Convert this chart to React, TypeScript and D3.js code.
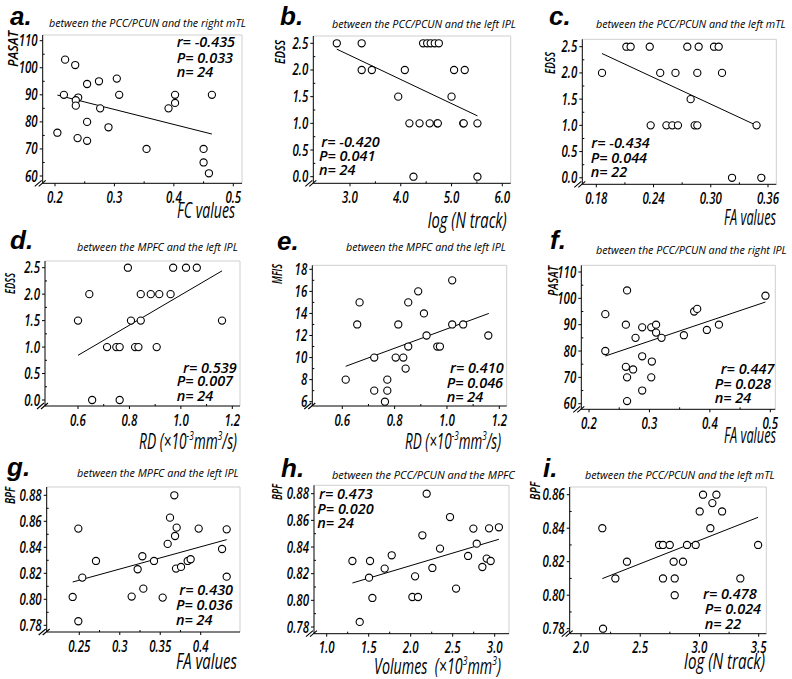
import React from "react";
import * as d3 from "d3";

// ---- data ----
// a. PCC/PCUN - right mTL : FC values vs PASAT
const aFC = [0.204, 0.217, 0.234, 0.215, 0.254, 0.274, 0.304, 0.308, 0.239, 0.235, 0.235, 0.276, 0.254, 0.290, 0.238, 0.254, 0.354, 0.391, 0.402, 0.402, 0.464, 0.450, 0.450, 0.459];
const aPASAT = [76, 103, 101, 90, 94, 95, 96, 90, 89, 88, 86, 85, 80, 78, 74, 73, 70, 85, 87, 90, 90, 70, 65, 61];
const aFit = [0.204, 89.9, 0.464, 75.5];
const aStats = ["r= -0.435", "P= 0.033", "n= 24"];

// b. PCC/PCUN - left IPL : log(N track) vs EDSS
const bLogN = [2.74, 3.23, 3.23, 3.43, 4.08, 3.95, 4.17, 4.37, 4.57, 4.72, 4.73, 5.23, 5.24, 5.51, 4.25, 5.51, 4.44, 4.52, 4.59, 4.67, 4.75, 5.0, 5.05, 5.26];
const bEDSS = [2.5, 2.5, 2.0, 2.0, 2.0, 1.5, 1.0, 1.0, 1.0, 1.0, 1.0, 1.0, 1.0, 1.0, 0.0, 0.0, 2.5, 2.5, 2.5, 2.5, 2.5, 1.5, 2.0, 2.0];
const bFit = [2.74, 2.39, 5.51, 1.14];
const bStats = ["r= -0.420", "P= 0.041", "n= 24"];

// c. PCC/PCUN - left mTL : FA values vs EDSS
const cFA = [0.186, 0.2115, 0.216, 0.236, 0.247, 0.263, 0.237, 0.2535, 0.2597, 0.2656, 0.2754, 0.2873, 0.2859, 0.2789, 0.2831, 0.2859, 0.3034, 0.3083, 0.3118, 0.348, 0.3223, 0.353];
const cEDSS = [2.0, 2.5, 2.5, 2.5, 2.0, 2.0, 1.0, 1.0, 1.0, 1.0, 2.5, 2.5, 2.0, 1.5, 1.0, 1.0, 2.5, 2.5, 2.0, 1.0, 0.0, 0.0];
const cFit = [0.186, 2.37, 0.349, 0.99];
const cStats = ["r= -0.434", "P= 0.044", "n= 22"];

// d. MPFC - left IPL : RD vs EDSS
const dRD = [0.6, 0.644, 0.655, 0.713, 0.749, 0.762, 0.762, 0.794, 0.806, 0.844, 0.822, 0.835, 0.844, 0.883, 0.916, 0.906, 0.96, 0.97, 1.02, 1.062, 1.16];
const dEDSS = [1.5, 2.0, 0.0, 1.0, 1.0, 1.0, 0.0, 2.5, 1.5, 1.5, 1.0, 1.0, 2.0, 2.0, 2.0, 1.0, 2.0, 2.5, 2.5, 2.5, 1.5];
const dFit = [0.6, 0.844, 1.16, 2.44];
const dStats = ["r= 0.539", "P= 0.007", "n= 24"];

// e. MPFC - left IPL : RD vs MFIS
const eRD = [0.613, 0.657, 0.666, 0.722, 0.722, 0.772, 0.772, 0.763, 0.804, 0.814, 0.833, 0.842, 0.852, 0.852, 0.89, 0.912, 0.922, 0.963, 0.973, 1.02, 1.02, 1.062, 1.158];
const eMFIS = [8, 13, 15, 10, 7, 7, 8, 6, 10, 13, 10, 9, 11, 15, 16, 14, 12, 11, 11, 17, 13, 13, 12];
const eFit = [0.613, 9.21, 1.16, 14.0];
const eStats = ["r= 0.410", "P= 0.046", "n= 24"];

// f. PCC/PCUN - right IPL : FA values vs PASAT
const fFA = [0.227, 0.227, 0.263, 0.261, 0.261, 0.263, 0.263, 0.273, 0.277, 0.288, 0.288, 0.288, 0.303, 0.311, 0.311, 0.32, 0.304, 0.303, 0.357, 0.374, 0.379, 0.395, 0.415, 0.492];
const fPASAT = [80, 94, 103, 90, 74, 70, 61, 73, 85, 89, 78, 65, 89, 90, 87, 85, 76, 70, 86, 95, 96, 88, 90, 101];
const fFit = [0.227, 78.1, 0.492, 98.6];
const fStats = ["r= 0.447", "P= 0.028", "n= 24"];

// g. MPFC - left IPL : FA values vs BPF
const gFA = [0.2418, 0.2488, 0.2488, 0.2537, 0.2706, 0.3147, 0.3221, 0.3279, 0.3291, 0.3423, 0.353, 0.3592, 0.3621, 0.3674, 0.3683, 0.3703, 0.3695, 0.3757, 0.3839, 0.3876, 0.3975, 0.4264, 0.4321, 0.4321];
const gBPF = [0.8018, 0.8544, 0.7831, 0.8167, 0.8295, 0.8021, 0.8231, 0.8331, 0.8082, 0.8295, 0.8013, 0.8426, 0.8628, 0.88, 0.8487, 0.8551, 0.8236, 0.8249, 0.8295, 0.8308, 0.8544, 0.8387, 0.8538, 0.8174];
const gFit = [0.2418, 0.8133, 0.4321, 0.8459];
const gStats = ["r= 0.430", "P= 0.036", "n= 24"];

// h. PCC/PCUN - MPFC : Volumes vs BPF
const hVol = [1.306, 1.393, 1.516, 1.504, 1.544, 1.69, 1.774, 2.052, 2.02, 2.087, 2.139, 2.19, 2.258, 2.349, 2.468, 2.54, 2.683, 2.746, 2.786, 2.853, 2.905, 2.952, 2.933, 3.05];
const hBPF = [0.8295, 0.7838, 0.8295, 0.817, 0.8018, 0.8238, 0.8338, 0.818, 0.8025, 0.8025, 0.8488, 0.88, 0.8243, 0.8388, 0.8625, 0.8088, 0.8333, 0.8538, 0.8425, 0.825, 0.8313, 0.8295, 0.854, 0.8548];
const hFit = [1.306, 0.813, 3.05, 0.8458];
const hStats = ["r= 0.473", "P= 0.020", "n= 24"];

// i. PCC/PCUN - left mTL : log(N track) vs BPF
const iLogN = [2.18, 2.186, 2.29, 2.388, 2.659, 2.692, 2.692, 2.749, 2.782, 2.791, 2.791, 2.861, 2.895, 2.968, 3.002, 3.03, 3.092, 3.109, 3.143, 3.191, 3.345, 3.495];
const iBPF = [0.84, 0.78, 0.81, 0.82, 0.83, 0.83, 0.81, 0.83, 0.82, 0.81, 0.8, 0.82, 0.83, 0.83, 0.85, 0.86, 0.84, 0.855, 0.86, 0.85, 0.81, 0.83];
const iFit = [2.18, 0.8099, 3.495, 0.8465];
const iStats = ["r= 0.478", "P= 0.024", "n= 22"];

// tick labels
const ticksFC = ["0.2", "0.3", "0.4", "0.5"];
const ticksPASAT = ["60", "70", "80", "90", "100", "110"];
const ticksLogNb = ["3.0", "4.0", "5.0", "6.0"];
const ticksEDSS = ["0.0", "0.5", "1.0", "1.5", "2.0", "2.5"];
const ticksFAc = ["0.18", "0.24", "0.30", "0.36"];
const ticksRD = ["0.6", "0.8", "1.0", "1.2"];
const ticksMFIS = ["6", "8", "10", "12", "14", "16", "18"];
const ticksFAg = ["0.25", "0.3", "0.35", "0.4"];
const ticksBPF = ["0.78", "0.80", "0.82", "0.84", "0.86", "0.88"];
const ticksVol = ["1.0", "1.5", "2.0", "2.5", "3.0"];
const ticksLogNi = ["2.0", "2.5", "3.0", "3.5"];
const ticksBPFi = ["0.78", "0.80", "0.82", "0.84", "0.86"];

// axis label pieces: [text, isSuperscript]
const rdLabel: [string, boolean][] = [["RD (×10", false], ["-3", true], ["mm", false], ["3", true], ["/s)", false]];
const volLabel: [string, boolean][] = [["Volumes\u00a0 (×10", false], ["3", true], ["mm", false], ["3", true], [")", false]];

const SANS = "'Open Sans', 'DejaVu Sans', sans-serif";
const ARIAL = "'Liberation Sans', Arial, sans-serif";

// canvas measuring so that condensed texts get a true horizontal scale
const ctx = typeof document !== "undefined" ? document.createElement("canvas").getContext("2d") : null;
const measure = (parts: [string, boolean][], size: number, weight: number) =>
  parts.reduce((w, [s, up]) => {
    if (!ctx) return w + s.length * size * 0.5;
    ctx.font = `italic ${weight} ${up ? size * 0.6 : size}px ${SANS}`;
    return w + ctx.measureText(s).width;
  }, 0);

const Fit = ({ x, y, w, size, weight = 400, anchor = "start", rotate = 0, parts }:
  { x: number; y: number; w: number; size: number; weight?: number; anchor?: string; rotate?: number; parts: [string, boolean][] }) => {
  const sx = w / measure(parts, size, weight);
  return (
    <text transform={`translate(${x},${y}) rotate(${rotate}) scale(${sx},1)`} textAnchor={anchor}
      fontSize={size} fontStyle="italic" fontWeight={weight} fontFamily={SANS}>
      {parts.map(([s, up], k) => {
        const prevUp = k > 0 && parts[k - 1][1];
        const dy = up ? -size * 0.42 : prevUp ? size * 0.42 : 0;
        return (
          <tspan key={k} dy={dy} fontSize={up ? size * 0.6 : size}>{s}</tspan>
        );
      })}
    </text>
  );
};

// layout of each panel (page pixels)
const panels = [
  { letter: "a.", lx: 10, ly: 25, title: "between the PCC/PCUN and the right mTL", tx: 49, ty: 27, tw: 197,
    xs: aFC, ys: aPASAT, fit: aFit, stats: aStats, xt: ticksFC, yt: ticksPASAT,
    xd: [0.2, 0.5], xr: [55, 233.3], yd: [60, 110], yr: [176, 40.7], frame: [42.7, 35, 242, 183.3],
    sp: [[176.7, 46.7], [176.7, 63.3], [176.7, 77.3]],
    xl: [["FC values", false]], xlp: [235, 218, 58], yl: "PASAT", ylp: [18, 31, 36] },
  { letter: "b.", lx: 280, ly: 25, title: "between the PCC/PCUN and the left IPL", tx: 332, ty: 28, tw: 184,
    xs: bLogN, ys: bEDSS, fit: bFit, stats: bStats, xt: ticksLogNb, yt: ticksEDSS,
    xd: [3, 6], xr: [350, 502.3], yd: [0, 2.5], yr: [176.7, 43.3], frame: [313.3, 36, 510.7, 183.3],
    sp: [[321.3, 146.7], [319, 160.7], [319, 175]],
    xl: [["log (N track)", false]], xlp: [506.7, 228, 79], yl: "EDSS", ylp: [285, 40, 24] },
  { letter: "c.", lx: 549, ly: 25, title: "between the PCC/PCUN and the left mTL", tx: 596, ty: 28, tw: 190,
    xs: cFA, ys: cEDSS, fit: cFit, stats: cStats, xt: ticksFAc, yt: ticksEDSS,
    xd: [0.18, 0.36], xr: [596.3, 768], yd: [0, 2.5], yr: [177.8, 46.7], frame: [582.3, 39.3, 776.3, 184.3],
    sp: [[591.3, 148.3], [590.7, 163.3], [590.7, 177.3]],
    xl: [["FA values", false]], xlp: [776, 225, 52], yl: "EDSS", ylp: [555, 52, 22] },
  { letter: "d.", lx: 10, ly: 249, title: "between the MPFC and the left IPL", tx: 77, ty: 251, tw: 161,
    xs: dRD, ys: dEDSS, fit: dFit, stats: dStats, xt: ticksRD, yt: ticksEDSS,
    xd: [0.6, 1.2], xr: [78, 232.3], yd: [0, 2.5], yr: [400, 267.7], frame: [45, 261, 240, 406],
    sp: [[183, 372.7], [176.7, 386], [176.7, 401]],
    xl: rdLabel, xlp: [237, 449, 98], yl: "EDSS", ylp: [15, 273, 21] },
  { letter: "e.", lx: 277, ly: 250, title: "between the MPFC and the left IPL", tx: 346, ty: 251, tw: 160,
    xs: eRD, ys: eMFIS, fit: eFit, stats: eStats, xt: ticksRD, yt: ticksMFIS,
    xd: [0.6, 1.2], xr: [342.3, 499.3], yd: [6, 18], yr: [401.7, 269.3], frame: [312.3, 265.3, 506.7, 406],
    sp: [[450, 372.7], [446.7, 387.7], [446.7, 401.7]],
    xl: rdLabel, xlp: [501, 449, 96], yl: "MFIS", ylp: [282, 264, 20] },
  { letter: "f.", lx: 550, ly: 249, title: "between the PCC/PCUN and the right IPL", tx: 596, ty: 254, tw: 191,
    xs: fFA, ys: fPASAT, fit: fFit, stats: fStats, xt: ticksFC, yt: ticksPASAT,
    xd: [0.2, 0.5], xr: [589, 770.3], yd: [60, 110], yr: [403.7, 272], frame: [581.3, 265.3, 775.3, 409.3],
    sp: [[720.7, 374.3], [714.7, 388.7], [714.7, 403.3]],
    xl: [["FA values", false]], xlp: [776, 443, 52], yl: "PASAT", ylp: [558, 266, 30] },
  { letter: "g.", lx: 7, ly: 476, title: "between the MPFC and the left IPL", tx: 77, ty: 477, tw: 162,
    xs: gFA, ys: gBPF, fit: gFit, stats: gStats, xt: ticksFAg, yt: ticksBPF,
    xd: [0.25, 0.4], xr: [79.3, 200.7], yd: [0.78, 0.88], yr: [625.3, 495.3], frame: [46.7, 487, 240, 632],
    sp: [[179.3, 594.7], [176, 610.3], [176, 625.3]],
    xl: [["FA values", false]], xlp: [237, 669, 61], yl: "BPF", ylp: [15, 487, 17] },
  { letter: "h.", lx: 281, ly: 477, title: "between the PCC/PCUN and the MPFC", tx: 332, ty: 479, tw: 183,
    xs: hVol, ys: hBPF, fit: hFit, stats: hStats, xt: ticksVol, yt: ticksBPF,
    xd: [1, 3], xr: [326.7, 494.7], yd: [0.78, 0.88], yr: [627, 493.7], frame: [314, 485.3, 509, 633.7],
    sp: [[319, 498.7], [317.3, 513.7], [317.3, 528]],
    xl: volLabel, xlp: [501, 674, 127], yl: "BPF", ylp: [282, 484, 16] },
  { letter: "i.", lx: 543, ly: 477, title: "between the PCC/PCUN and the left mTL", tx: 585, ty: 479, tw: 190,
    xs: iLogN, ys: iBPF, fit: iFit, stats: iStats, xt: ticksLogNi, yt: ticksBPFi,
    xd: [2, 3.5], xr: [581, 758.7], yd: [0.78, 0.86], yr: [628.7, 494.7], frame: [569.7, 487, 766.3, 633.7],
    sp: [[703, 599.3], [704.7, 614.3], [704.7, 628.7]],
    xl: [["log (N track)", false]], xlp: [765, 669, 81], yl: "BPF", ylp: [540, 482, 18] },
];

const midpoints = (v: number[]) => v.slice(1).map((d, k) => (d + v[k]) / 2);

const Panel = ({ p }: { p: any }) => {
  const x = d3.scaleLinear().domain(p.xd).range(p.xr);
  const y = d3.scaleLinear().domain(p.yd).range(p.yr);
  const [L, T, R, B] = p.frame;
  const xv = p.xt.map(Number);
  const yv = p.yt.map(Number);
  const line = d3.line<number[]>().x((d) => x(d[0])).y((d) => y(d[1]));
  const fitPath = line([[p.fit[0], p.fit[1]], [p.fit[2], p.fit[3]]]) || "";

  return (
    <g>
      {/* light frame */}
      <path d={`M${L},${T}H${R}V${B}`} fill="none" stroke="#cfcfcf" strokeWidth={1} />
      {/* axes */}
      <path d={`M${L},${T}V${B}H${R}`} fill="none" stroke="#000" strokeWidth={1} />
      {/* break marks */}
      <path d={`M${L - 8},${B + 3}L${L - 1},${B - 3}M${L - 4},${B + 3}L${L + 3},${B - 3}`} stroke="#000" strokeWidth={1.1} />
      {/* ticks */}
      {xv.map((v: number, k: number) => (
        <g key={"xt" + k}>
          <line x1={x(v)} x2={x(v)} y1={B} y2={B + 3} stroke="#000" />
          <text transform={`translate(${x(v)},${B + 19.5}) scale(0.72,1)`} textAnchor="middle" fontSize={16}
            fontStyle="italic" fontWeight={600} fontFamily={SANS}>{p.xt[k]}</text>
        </g>
      ))}
      {midpoints(xv).map((v, k) => (
        <line key={"xm" + k} x1={x(v)} x2={x(v)} y1={B} y2={B - 2} stroke="#000" />
      ))}
      {yv.map((v: number, k: number) => (
        <g key={"yt" + k}>
          <line x1={L - 3} x2={L} y1={y(v)} y2={y(v)} stroke="#000" />
          <text transform={`translate(${L - 5},${y(v) + 5.5}) scale(0.72,1)`} textAnchor="end" fontSize={16}
            fontStyle="italic" fontWeight={600} fontFamily={SANS}>{p.yt[k]}</text>
        </g>
      ))}
      {midpoints(yv).map((v, k) => (
        <line key={"ym" + k} x1={L} x2={L + 2} y1={y(v)} y2={y(v)} stroke="#000" />
      ))}
      {/* fit line */}
      <path d={fitPath} stroke="#000" strokeWidth={1} fill="none" />
      {/* points */}
      {p.xs.map((v: number, k: number) => (
        <circle key={"pt" + k} cx={x(v)} cy={y(p.ys[k])} r={3.6} fill="#fff" stroke="#000" strokeWidth={1.1} />
      ))}
      {/* stats */}
      {p.stats.map((s: string, k: number) => (
        <text key={"st" + k} x={p.sp[k][0]} y={p.sp[k][1]} fontSize={14.5} fontStyle="italic" fontWeight={600}
          fontFamily={SANS}>{s}</text>
      ))}
      {/* panel letter and title */}
      <text x={p.lx} y={p.ly} fontSize={26} fontStyle="italic" fontWeight={700} fontFamily={ARIAL}>{p.letter}</text>
      <Fit x={p.tx} y={p.ty} w={p.tw} size={11.5} parts={[[p.title, false]]} />
      {/* axis labels */}
      <Fit x={p.xlp[0]} y={p.xlp[1]} w={p.xlp[2]} size={21} anchor="end" parts={p.xl} />
      <Fit x={p.ylp[0]} y={p.ylp[1]} w={p.ylp[2]} size={14} weight={600} anchor="end" rotate={-90}
        parts={[[p.yl, false]]} />
    </g>
  );
};

export default function App() {
  return (
    <svg width={792} height={679} style={{ position: "absolute", left: 0, top: 0, background: "#fff" }}>
      <rect width={792} height={679} fill="#fff" />
      {panels.map((p, k) => (
        <Panel key={k} p={p} />
      ))}
    </svg>
  );
}
